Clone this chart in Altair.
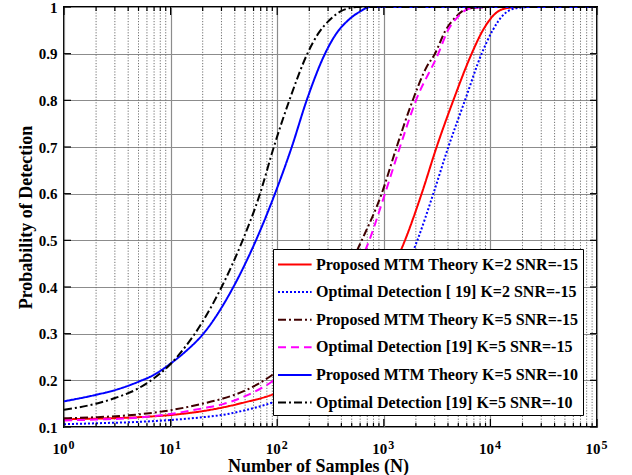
import altair as alt
import pandas as pd

# ---------------- data ----------------
series_names = [
    "Proposed MTM Theory K=2 SNR=-15",
    "Optimal Detection [ 19] K=2 SNR=-15",
    "Proposed MTM Theory K=5 SNR=-15",
    "Optimal Detection [19] K=5 SNR=-15",
    "Proposed MTM Theory K=5 SNR=-10",
    "Optimal Detection [19] K=5 SNR=-10",
]
series_colors = ["#ff0000", "#0000ff", "#400000", "#ff00ff", "#0000ff", "#000000"]
series_dashes = [[1, 0], [2, 2], [8, 3, 2, 3], [8, 5], [1, 0], [8, 3, 2, 3]]

# Proposed MTM K=2 SNR=-15 (red solid)
n_red = [1, 2, 5, 10, 20, 31, 50, 89, 158, 300, 500, 800, 1100, 1580, 2265, 3130, 4490, 6670, 8500, 11000, 14600, 20000, 100000]
p_red = [0.1165, 0.118, 0.121, 0.1257, 0.134, 0.142, 0.153, 0.169, 0.195, 0.24, 0.29, 0.36, 0.42, 0.5, 0.6, 0.7, 0.8, 0.9, 0.95, 0.985, 0.998, 1.0, 1.0]

# Optimal [19] K=2 SNR=-15 (blue dotted)
n_bdot = [1, 2, 5, 10, 20, 31, 50, 89, 158, 300, 500, 900, 1400, 2064, 2915, 4030, 5775, 8280, 10500, 13500, 18000, 25000, 100000]
p_bdot = [0.106, 0.108, 0.111, 0.115, 0.121, 0.126, 0.136, 0.152, 0.175, 0.215, 0.26, 0.33, 0.41, 0.5, 0.6, 0.7, 0.8, 0.9, 0.95, 0.985, 0.998, 1.0, 1.0]

# Proposed MTM K=5 SNR=-15 (dark brown dash-dot)
n_brown = [1, 2, 5, 10, 20, 31, 50, 89, 158, 251, 398, 621, 955, 1320, 1867, 2500, 3020, 3800, 4800, 6200, 10000, 100000]
p_brown = [0.1186, 0.121, 0.127, 0.136, 0.150, 0.161, 0.178, 0.211, 0.26, 0.32, 0.41, 0.5, 0.6, 0.7, 0.8, 0.87, 0.9, 0.95, 0.98, 0.997, 1.0, 1.0]

# Optimal [19] K=5 SNR=-15 (magenta dashed)
n_mag = [1, 2, 5, 10, 20, 31, 50, 89, 158, 251, 398, 731, 1026, 1418, 2005, 3245, 4000, 5000, 6400, 10000, 100000]
p_mag = [0.114, 0.116, 0.120, 0.128, 0.140, 0.149, 0.166, 0.197, 0.245, 0.30, 0.38, 0.5, 0.6, 0.7, 0.8, 0.9, 0.95, 0.98, 0.997, 1.0, 1.0]

# Proposed MTM K=5 SNR=-10 (blue solid)
n_blue = [1, 2, 3, 5, 7, 10, 14, 20.3, 38.8, 63.2, 95.3, 137, 189, 281, 361, 465, 596, 750, 100000]
p_blue = [0.155, 0.169, 0.179, 0.197, 0.212, 0.236, 0.263, 0.3, 0.4, 0.5, 0.6, 0.7, 0.8, 0.9, 0.944, 0.972, 0.99, 1.0, 1.0]

# Optimal [19] K=5 SNR=-10 (black dash-dot)
n_black = [1, 2, 3, 5, 8, 10, 13, 16.9, 30.1, 47.4, 69, 93, 130, 192, 244, 310, 389, 480, 560, 100000]
p_black = [0.137, 0.15, 0.162, 0.183, 0.215, 0.235, 0.265, 0.3, 0.4, 0.5, 0.6, 0.7, 0.8, 0.9, 0.944, 0.972, 0.99, 0.998, 1.0, 1.0]

x_ticks = [1, 10, 100, 1000, 10000, 100000]
x_tick_base = ["10", "10", "10", "10", "10", "10"]
x_tick_exp = ["0", "1", "2", "3", "4", "5"]
x_minor = [m * d for d in [1, 10, 100, 1000, 10000] for m in range(2, 10)]
y_ticks = [0.1, 0.2, 0.3, 0.4, 0.5, 0.6, 0.7, 0.8, 0.9, 1.0]
y_tick_labels = ["0.1", "0.2", "0.3", "0.4", "0.5", "0.6", "0.7", "0.8", "0.9", "1"]

# ---------------- build tables ----------------
all_n = [n_red, n_bdot, n_brown, n_mag, n_blue, n_black]
all_p = [p_red, p_bdot, p_brown, p_mag, p_blue, p_black]
rows = []
for name, ns, ps in zip(series_names, all_n, all_p):
    for n, p in zip(ns, ps):
        rows.append({"series": name, "N": n, "P": p})
df = pd.DataFrame(rows)
minor_df = pd.DataFrame({"N": x_minor})
major_df = pd.DataFrame({"N": x_ticks, "e": x_tick_exp})
ytick_df = pd.DataFrame({"P": y_ticks})

W, H = 533, 420
FONT = "Liberation Serif"
GRID = "#8c8c8c"
MINOR = "#707070"
MAJOR_TICK, MINOR_TICK, Y_TICK = 8, 4, 7


def expr_from(values, labels):
    return " : ".join(
        f"abs(datum.value - {v}) < 1e-6 ? '{l}'" for v, l in zip(values, labels)
    ) + " : ''"


x_scale = alt.Scale(type="log", domain=[1, 100000], nice=False)
y_scale = alt.Scale(domain=[0.1, 1.0], nice=False, zero=False)

lab = dict(labelFont=FONT, labelFontWeight="bold", labelColor="black")
tit = dict(titleFont=FONT, titleFontSize=18, titleFontWeight="bold", titleColor="black")

x_axis_main = alt.Axis(
    orient="bottom", values=x_ticks, labelExpr=expr_from(x_ticks, x_tick_base),
    title="Number of Samples (N)",
    grid=True, gridColor=GRID, gridWidth=1.2, domain=False, ticks=False,
    labelFontSize=15, labelPadding=14, labelOffset=-4.5, labelFlush=False, **lab,
    titleX=254, titleAlign="center", titleY=44, titleBaseline="alphabetic", **tit,
)
y_axis_main = alt.Axis(
    orient="left", values=y_ticks, labelExpr=expr_from(y_ticks, y_tick_labels),
    title="Probability of Detection",
    grid=True, gridColor=GRID, gridWidth=1.2, domain=False, ticks=False,
    labelFontSize=15, labelPadding=7, **lab,
    titleX=-33, titleY=210, titleAngle=270, titleBaseline="alphabetic", titleAlign="center", **tit,
)

legend = alt.Legend(
    orient="none", legendX=209, legendY=242, title=None,
    labelFont=FONT, labelFontSize=16, labelFontWeight="bold", labelColor="black",
    labelLimit=400, labelOffset=16,
    symbolType="M-1,0L2.2,0", symbolSize=441, symbolStrokeWidth=2,
    padding=4, rowPadding=7.6,
    strokeColor="black", fillColor="white",
)

minor_grid = alt.Chart(minor_df).mark_rule(
    color=MINOR, strokeDash=[1.2, 1.6], strokeWidth=1
).encode(x=alt.X("N:Q", scale=x_scale, axis=None))

lines = alt.Chart(df).mark_line(strokeWidth=2, interpolate="monotone", clip=True).encode(
    x=alt.X("N:Q", scale=x_scale, axis=x_axis_main),
    y=alt.Y("P:Q", scale=y_scale, axis=y_axis_main),
    color=alt.Color("series:N", scale=alt.Scale(domain=series_names, range=series_colors), legend=legend),
    strokeDash=alt.StrokeDash("series:N", scale=alt.Scale(domain=series_names, range=series_dashes), legend=legend),
)

# exponents of the "10" tick labels (x from the scale)
exp_layer = alt.Chart(major_df).mark_text(
    font=FONT, fontSize=12, fontWeight="bold", color="black",
    align="center", baseline="top", dx=7.5,
).encode(x=alt.X("N:Q", scale=x_scale, axis=None), y=alt.value(H + 13), text="e:N")


# inward tick marks on the frame (positions come from the scales)
def xticks(data, length, top):
    yc = length / 2 if top else H - length / 2
    return alt.Chart(data).mark_tick(color="black", size=length, thickness=1.2, opacity=1).encode(
        x=alt.X("N:Q", scale=x_scale, axis=None), y=alt.value(yc))


def yticks(right):
    x0, x1 = (W, W - Y_TICK) if right else (0, Y_TICK)
    return alt.Chart(ytick_df).mark_rule(color="black", strokeWidth=1.2).encode(
        y=alt.Y("P:Q", scale=y_scale, axis=None), x=alt.value(x0), x2=alt.value(x1))


tick_layers = [
    xticks(major_df, MAJOR_TICK, False), xticks(minor_df, MINOR_TICK, False),
    xticks(major_df, MAJOR_TICK, True), xticks(minor_df, MINOR_TICK, True),
    yticks(False), yticks(True),
]

chart = alt.layer(minor_grid, lines, exp_layer, *tick_layers).resolve_axis(
    x="independent", y="independent"
).properties(
    width=W, height=H,
    autosize=alt.AutoSizeParams(type="none"),
    padding={"left": 64, "top": 7, "right": 35, "bottom": 48},
    background="white",
).configure_view(stroke="black", strokeWidth=2)

chart.save("out.html", embed_options={"renderer": "svg", "actions": False})
